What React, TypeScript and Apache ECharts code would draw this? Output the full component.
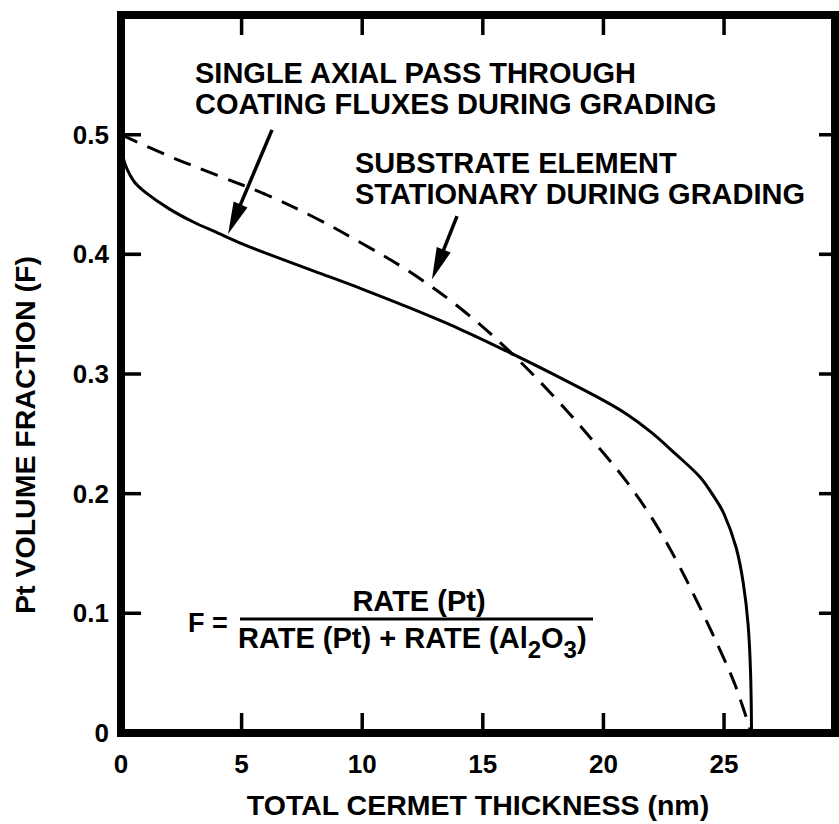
import { useEffect, useRef } from "react";
import * as echarts from "echarts";

// Total cermet thickness (nm) and Pt volume fraction along each grading profile
const axialPassThickness = [0, 0.1, 0.5, 1, 2, 3, 4, 5, 6, 8, 10, 12, 14, 16, 18, 20, 21, 22, 23, 24, 24.5, 25, 25.5, 25.8, 26.0, 26.1, 26.14];
const axialPassFraction = [0.5, 0.48, 0.462, 0.452, 0.438, 0.427, 0.418, 0.409, 0.401, 0.386, 0.371, 0.355, 0.338, 0.319, 0.299, 0.278, 0.266, 0.251, 0.233, 0.214, 0.2, 0.183, 0.155, 0.125, 0.09, 0.05, 0];

const stationaryThickness = [0, 2, 4, 6, 8, 10, 12, 14, 16, 18, 20, 21, 22, 23, 24, 25, 25.5, 26.13];
const stationaryFraction = [0.5, 0.482, 0.466, 0.45, 0.431, 0.409, 0.385, 0.356, 0.321, 0.28, 0.234, 0.209, 0.18, 0.145, 0.105, 0.062, 0.038, 0];

// Annotation arrows: tail x, tail y, head x, head y (data coordinates)
const annotationArrows = [
  [6.26, 0.504, 4.44, 0.417],
  [13.93, 0.432, 12.89, 0.379],
];

// Tick marks drawn on all four sides of the frame, pointing inwards
const xTickValues = [5, 10, 15, 20, 25];
const yTickValues = [0.1, 0.2, 0.3, 0.4, 0.5];

const X_MIN = 0;
const X_MAX = 29.6;
const Y_MIN = 0;
const Y_MAX = 0.6;

const WIDTH = 839;
const HEIGHT = 824;
const GRID = { left: 121, top: 15, right: 4, bottom: 88 };

const FONT = "Liberation Sans, Arial, Helvetica, sans-serif";
const INK = "#000";

const pairs = (xs: number[], ys: number[]) => xs.map((x, i) => [x, ys[i]]);

export default function App() {
  const ref = useRef<HTMLDivElement>(null);

  useEffect(() => {
    document.body.style.margin = "0";
    const chart = echarts.init(ref.current!, undefined, { renderer: "svg" });

    const xScale = { min: X_MIN, max: X_MAX, interval: 5 };
    const yScale = { min: Y_MIN, max: Y_MAX, interval: 0.1 };
    const frameLine = { show: true, onZero: false, lineStyle: { color: INK, width: 8 } };
    const textBold = (size: number) => `bold ${size}px ${FONT}`;
    const textAt = (x: number, y: number, text: string, size: number, align = "left") => ({
      type: "text",
      x,
      y,
      style: {
        text,
        font: textBold(size),
        lineHeight: Math.round(size * 1.08),
        fill: INK,
        align,
        verticalAlign: "middle",
        textAlign: align,
        textVerticalAlign: "middle",
      },
    });

    // tick lengths in pixels, expressed in data units of each axis
    const unitsPerPxX = (X_MAX - X_MIN) / (WIDTH - GRID.left - GRID.right);
    const unitsPerPxY = (Y_MAX - Y_MIN) / (HEIGHT - GRID.top - GRID.bottom);
    const tickSeries = (name: string, a: number[], b: number[]) => ({
      name,
      type: "line",
      data: [a, b],
      showSymbol: false,
      silent: true,
      z: 4,
      lineStyle: { color: INK, width: 3.5, cap: "butt" },
    });
    const ticks = [
      ...xTickValues.flatMap((v) => [
        tickSeries(`tick-bottom-${v}`, [v, Y_MIN], [v, Y_MIN + 20 * unitsPerPxY]),
        tickSeries(`tick-top-${v}`, [v, Y_MAX], [v, Y_MAX - 20 * unitsPerPxY]),
      ]),
      ...yTickValues.flatMap((v) => [
        tickSeries(`tick-left-${v}`, [X_MIN, v], [X_MIN + 20 * unitsPerPxX, v]),
        tickSeries(`tick-right-${v}`, [X_MAX, v], [X_MAX - 16 * unitsPerPxX, v]),
      ]),
    ];

    chart.setOption({
      animation: false,
      backgroundColor: "#fff",
      grid: {
        ...GRID,
        show: true,
        borderWidth: 8,
        borderColor: INK,
        backgroundColor: "transparent",
      },
      xAxis: [
        {
          type: "value",
          ...xScale,
          position: "bottom",
          name: "TOTAL CERMET THICKNESS (nm)",
          nameLocation: "middle",
          nameGap: 57,
          nameTextStyle: { color: INK, fontFamily: FONT, fontWeight: "bold", fontSize: 28.5 },
          axisLine: frameLine,
          axisTick: { show: false },
          splitLine: { show: false },
          axisLabel: {
            color: INK,
            fontFamily: FONT,
            fontWeight: "bold",
            fontSize: 26,
            margin: 18,
            showMaxLabel: false,
            formatter: (v: number) => (v > 25 ? "" : String(v)),
          },
        },
        {
          type: "value",
          ...xScale,
          position: "top",
          axisLine: frameLine,
          axisTick: { show: false },
          splitLine: { show: false },
          axisLabel: { show: false },
        },
      ],
      yAxis: [
        {
          type: "value",
          ...yScale,
          position: "left",
          axisLine: frameLine,
          axisTick: { show: false },
          splitLine: { show: false },
          axisLabel: {
            color: INK,
            fontFamily: FONT,
            fontWeight: "bold",
            fontSize: 26,
            margin: 12,
            formatter: (v: number) => (v === 0 ? "0" : v > 0.55 ? "" : v.toFixed(1)),
          },
        },
        {
          type: "value",
          ...yScale,
          position: "right",
          axisLine: frameLine,
          axisTick: { show: false },
          splitLine: { show: false },
          axisLabel: { show: false },
        },
      ],
      series: [
        {
          name: "Single axial pass",
          type: "line",
          data: pairs(axialPassThickness, axialPassFraction),
          showSymbol: false,
          smooth: 0.35,
          lineStyle: { color: INK, width: 3 },
          silent: true,
          z: 3,
        },
        {
          name: "Substrate stationary",
          type: "line",
          data: pairs(stationaryThickness, stationaryFraction),
          showSymbol: false,
          smooth: 0.35,
          lineStyle: { color: INK, width: 3, type: [18, 11] },
          silent: true,
          z: 3,
        },
        ...ticks,
        {
          name: "Arrows",
          type: "custom",
          silent: true,
          z: 5,
          data: annotationArrows,
          renderItem: (_params: any, api: any) => {
            const tail = api.coord([api.value(0), api.value(1)]);
            const tip = api.coord([api.value(2), api.value(3)]);
            const dx = tip[0] - tail[0];
            const dy = tip[1] - tail[1];
            const len = Math.hypot(dx, dy);
            const ux = dx / len;
            const uy = dy / len;
            const headLen = 32;
            const headHalf = 7.5;
            const bx = tip[0] - ux * headLen;
            const by = tip[1] - uy * headLen;
            return {
              type: "group",
              children: [
                {
                  type: "line",
                  shape: { x1: tail[0], y1: tail[1], x2: bx + ux * 4, y2: by + uy * 4 },
                  style: { stroke: INK, lineWidth: 3.5 },
                },
                {
                  type: "polygon",
                  shape: {
                    points: [
                      tip,
                      [bx - uy * headHalf, by + ux * headHalf],
                      [bx + uy * headHalf, by - ux * headHalf],
                    ],
                  },
                  style: { fill: INK },
                },
              ],
            };
          },
        },
      ],
      graphic: [
        {
          type: "text",
          x: 25,
          y: 435,
          rotation: Math.PI / 2,
          style: {
            text: "Pt VOLUME FRACTION (F)",
            font: textBold(28.5),
            fill: INK,
            align: "center",
            verticalAlign: "middle",
            textAlign: "center",
            textVerticalAlign: "middle",
          },
        },
        textAt(195, 88, "SINGLE AXIAL PASS THROUGH\nCOATING FLUXES DURING GRADING", 29),
        textAt(355, 178, "SUBSTRATE ELEMENT\nSTATIONARY DURING GRADING", 29),
        textAt(188, 623, "F =", 27),
        textAt(419, 601, "RATE (Pt)", 29, "center"),
        {
          type: "line",
          shape: { x1: 240, y1: 619, x2: 593, y2: 619 },
          style: { stroke: INK, lineWidth: 3 },
        },
        {
          type: "text",
          x: 238,
          y: 638,
          style: {
            text: "{n|RATE (Pt) + RATE (Al}{s|2}{n|O}{s|3}{n|)}",
            fill: INK,
            align: "left",
            verticalAlign: "middle",
            textAlign: "left",
            textVerticalAlign: "middle",
            rich: {
              n: { fontFamily: FONT, fontWeight: "bold", fontSize: 29, lineHeight: 30 },
              s: {
                fontFamily: FONT,
                fontWeight: "bold",
                fontSize: 24,
                lineHeight: 26,
                padding: [22, 0, 0, 0],
              },
            },
          },
        },
      ],
    });

    return () => chart.dispose();
  }, []);

  return <div ref={ref} style={{ width: WIDTH, height: HEIGHT }} />;
}
